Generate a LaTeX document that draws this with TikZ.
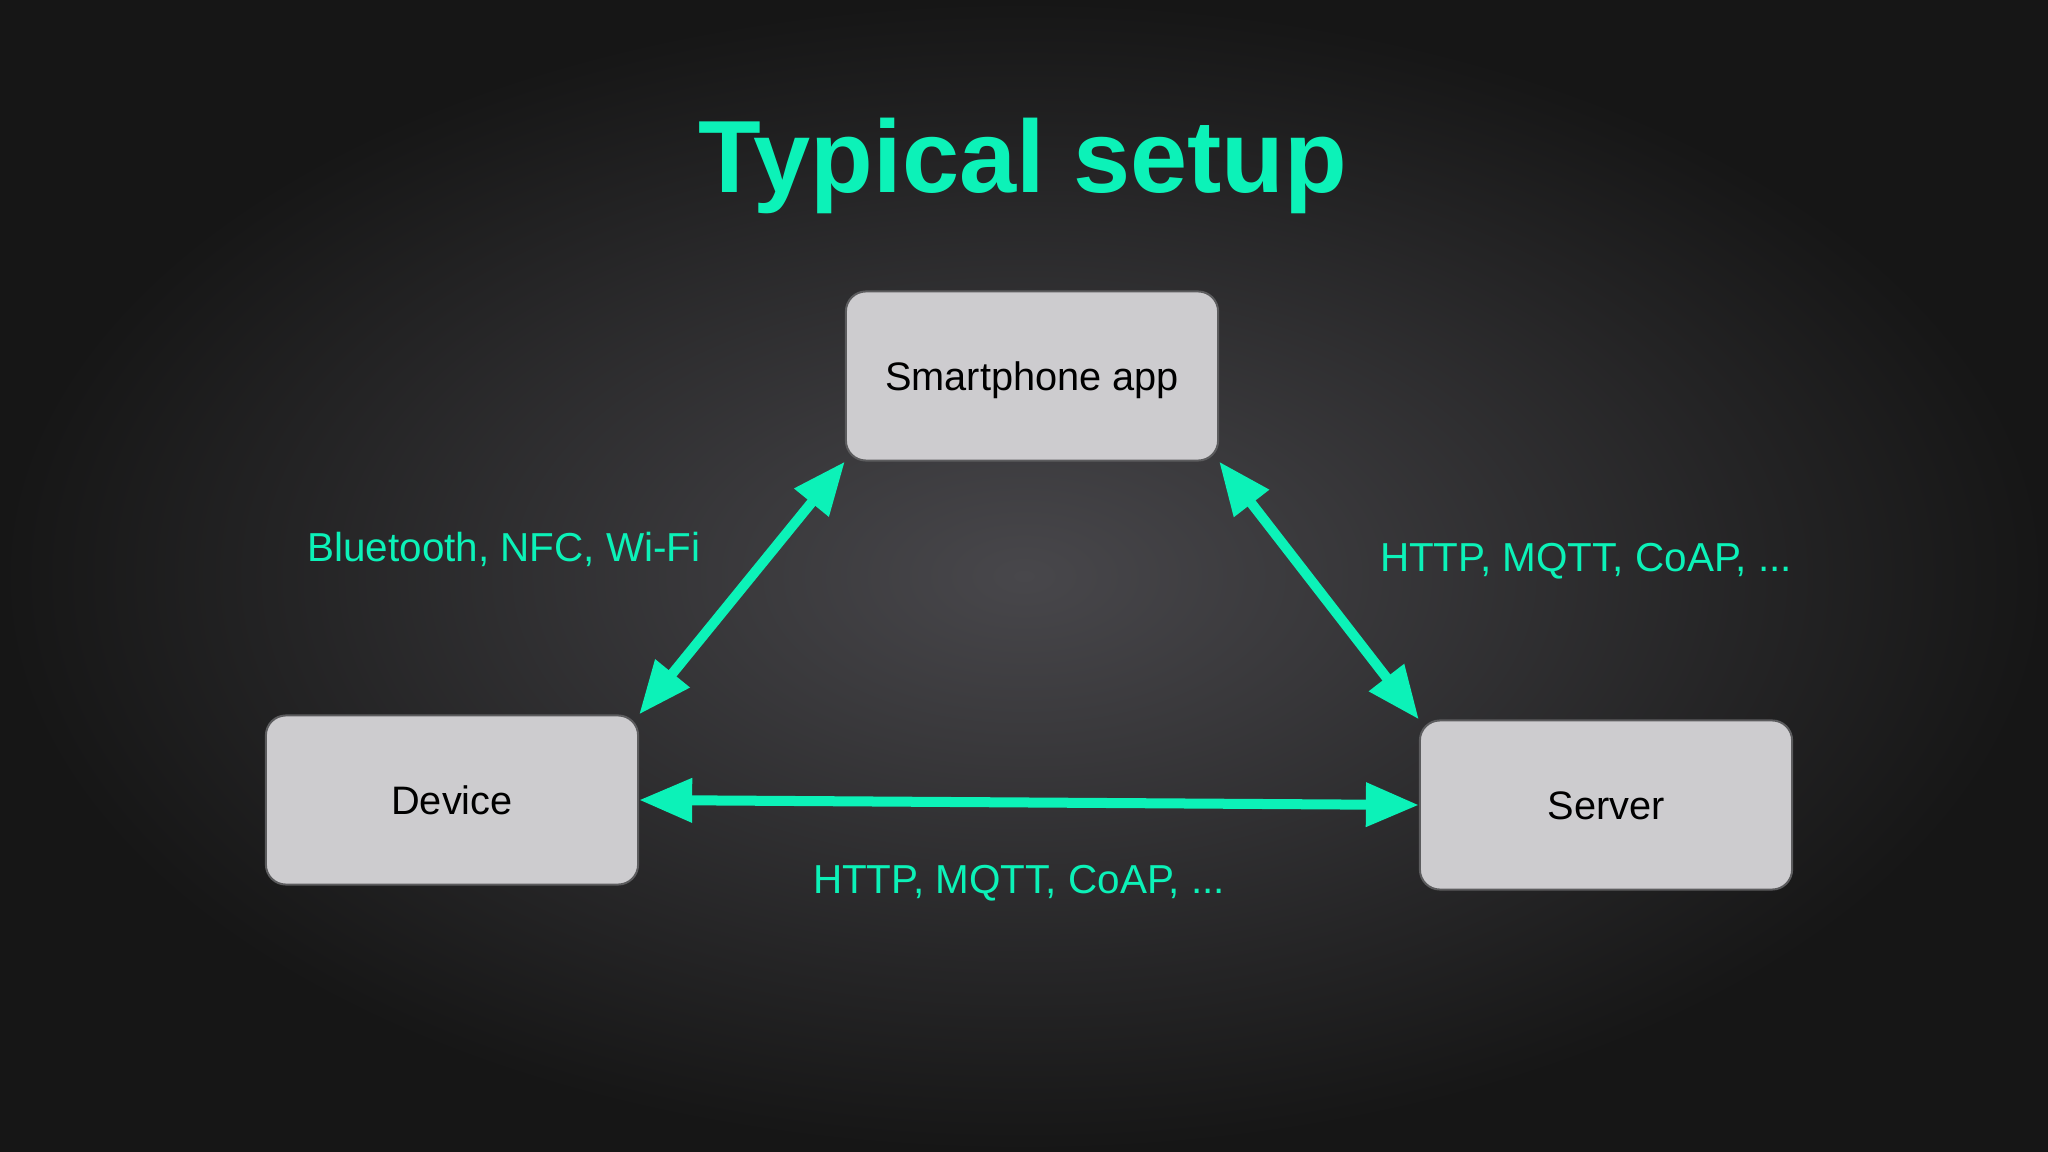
\documentclass[tikz,border=0pt]{standalone}
\usepackage{fontspec}
\setmainfont{Liberation Sans}
\usetikzlibrary{arrows.meta}

\definecolor{mint}{HTML}{0CF2B8}
\definecolor{boxgray}{HTML}{CDCCCF}
\definecolor{boxline}{HTML}{5C5C5E}
\definecolor{bgin}{HTML}{48474B}
\definecolor{bgout}{HTML}{161616}

\begin{document}
\begin{tikzpicture}[
                x = 0.01cm, y = 0.01cm, % one unit is one pixel
                > = {Triangle[length=0.53cm, width=0.42cm]}, % arrow head style
                line width = 0.1cm % line style
            ]

            \tikzstyle{box}=[draw = boxline, line width = 0.02cm, fill = boxgray,
            rounded corners = 0.2cm, minimum width = 3.72cm, minimum height = 1.69cm,
            text height = 0.28cm, text depth = 0pt,
            font = \fontsize{11.3}{13}\selectfont]
            \tikzstyle{proto}=[text = mint, anchor = base,
            font = \fontsize{11.5}{13}\selectfont]

            % background
            \shade[inner color = bgin, outer color = bgout] (0,0) rectangle (2048,-1152);
            \useasboundingbox (0,0) rectangle (2048,-1152);

            \node (title) [text = mint, anchor = base,
            font = \fontsize{29.2}{34}\selectfont\bfseries] at (1023,-193) {Typical setup};

            \node (app) [box] at (1032,-376) {Smartphone app}; \node (device)
            [box] at (452,-800) {Device}; \node (server) [box] at (1606,-805)
            {Server};

            \node (bt) [proto] at (504,-562) {Bluetooth, NFC, Wi-Fi}; \node
            (cloud) [proto] at (1586,-572) {HTTP, MQTT, CoAP, ...}; \node (direct)
            [proto] at (1019,-893) {HTTP, MQTT, CoAP, ...};

            \draw[<->, mint] (device.north east) -- (app.south west);
            \draw[<->, mint] (app.south east) -- (server.north west);
            \draw[<->, mint] (device.east) -- (server.west);

        \end{tikzpicture}
\end{document}
